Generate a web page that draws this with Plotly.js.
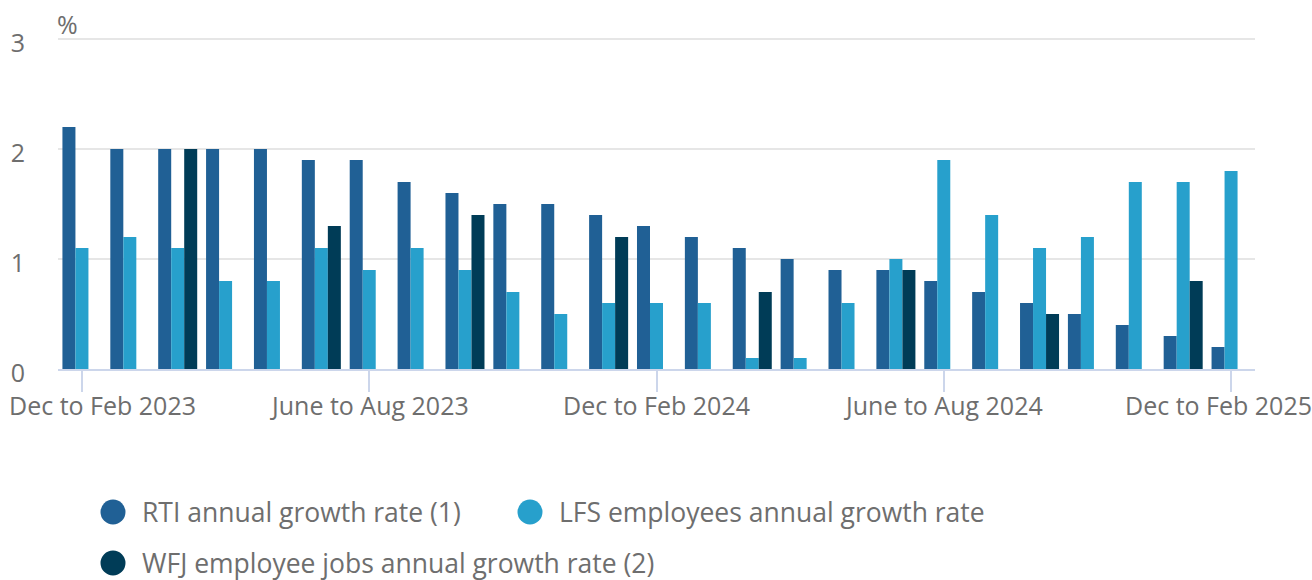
<!DOCTYPE html>
<html><head><meta charset="utf-8">
<script src="https://cdn.plot.ly/plotly-3.0.1.min.js"></script>
<style>html,body{margin:0;padding:0;background:#fff;} #chart{width:1312px;height:580px;}</style>
</head><body><div id="chart"></div>
<script>
const categories = [
  "Dec to Feb 2023","Jan to Mar 2023","Feb to Apr 2023","Mar to May 2023","Apr to June 2023",
  "May to July 2023","June to Aug 2023","July to Sept 2023","Aug to Oct 2023","Sept to Nov 2023",
  "Oct to Dec 2023","Nov to Jan 2024","Dec to Feb 2024","Jan to Mar 2024","Feb to Apr 2024",
  "Mar to May 2024","Apr to June 2024","May to July 2024","June to Aug 2024","July to Sept 2024",
  "Aug to Oct 2024","Sept to Nov 2024","Oct to Dec 2024","Nov to Jan 2025","Dec to Feb 2025"
];
const rtiValues = [2.2,2.0,2.0,2.0,2.0,1.9,1.9,1.7,1.6,1.5,1.5,1.4,1.3,1.2,1.1,1.0,0.9,0.9,0.8,0.7,0.6,0.5,0.4,0.3,0.2];
const lfsValues = [1.1,1.2,1.1,0.8,0.8,1.1,0.9,1.1,0.9,0.7,0.5,0.6,0.6,0.6,0.1,0.1,0.6,1.0,1.9,1.4,1.1,1.2,1.7,1.7,1.8];
const wfjValues = [null,null,2.0,null,null,1.3,null,null,1.4,null,null,1.2,null,null,0.7,null,null,0.9,null,null,0.5,null,null,0.8,null];
const seriesNames = ["RTI annual growth rate (1)","LFS employees annual growth rate","WFJ employee jobs annual growth rate (2)"];
const seriesColors = ["#206095","#27a0cc","#003c57"];
const xTickLabels = ["Dec to Feb 2023","June to Aug 2023","Dec to Feb 2024","June to Aug 2024","Dec to Feb 2025"];
const yTickValues = [0,1,2,3];
const yUnitLabel = "%";

const W = 1312, H = 580;
const M = {l:58, r:57, t:37, b:211};
const pw = W - M.l - M.r, ph = H - M.t - M.b;
const px = x => (x - M.l) / pw;
const py = y => (H - M.b - y) / ph;

const FONT = "'Open Sans', sans-serif";
const TXT = "#6e6e6e";

const seriesValues = [rtiValues, lfsValues, wfjValues];
const traces = seriesValues.map((vals, i) => ({
  type: "bar",
  name: seriesNames[i],
  x: categories,
  y: vals,
  marker: {color: seriesColors[i], line: {width: 0}},
  showlegend: false,
  hoverinfo: "x+y+name"
}));

const annotations = [];
// x tick labels (justified at the ends like the reference)
xTickLabels.forEach((lab, i) => {
  let anchor = "center", shift = 0;
  if (i === 0) { anchor = "left"; shift = -75; }
  if (i === xTickLabels.length - 1) { anchor = "right"; shift = 83; }
  annotations.push({
    x: lab, xref: "x", y: py(405), yref: "paper",
    text: lab, showarrow: false, xanchor: anchor, yanchor: "middle", xshift: shift,
    font: {family: FONT, size: 25, color: TXT}
  });
});
// unit label
annotations.push({
  x: px(55), xref: "paper", y: py(24), yref: "paper", text: yUnitLabel,
  showarrow: false, xanchor: "left", yanchor: "middle",
  font: {family: FONT, size: 25, color: TXT}
});

// custom legend
const legendPos = [[113, 512], [530, 512], [113, 563]];
const shapes = [];
seriesNames.forEach((nm, i) => {
  const [cx, cy] = legendPos[i];
  shapes.push({
    type: "circle", xref: "paper", yref: "paper",
    xsizemode: "pixel", ysizemode: "pixel",
    xanchor: px(cx), yanchor: py(cy),
    x0: -12.5, x1: 12.5, y0: -12.5, y1: 12.5,
    fillcolor: seriesColors[i], line: {width: 0}
  });
  annotations.push({
    x: px(cx + 27), xref: "paper", y: py(cy), yref: "paper", text: nm,
    showarrow: false, xanchor: "left", yanchor: "middle",
    font: {family: FONT, size: 26.5, color: TXT}
  });
});

const layout = {
  width: W, height: H,
  margin: M,
  paper_bgcolor: "#fff", plot_bgcolor: "#fff",
  barmode: "group", bargap: 0.185, bargroupgap: 0,
  showlegend: false,
  font: {family: FONT, color: TXT, size: 25},
  xaxis: {
    type: "category", range: [-0.5, categories.length - 0.5],
    showgrid: false, zeroline: false,
    showline: true, linecolor: "#ccd6eb", linewidth: 1.5,
    ticks: "outside", ticklen: 21, tickwidth: 1.5, tickcolor: "#ccd6eb",
    tickmode: "array", tickvals: xTickLabels, showticklabels: false,
    fixedrange: true
  },
  yaxis: {
    range: [0, 3.018], tickmode: "array", tickvals: yTickValues,
    showgrid: true, gridcolor: "#e6e6e6", gridwidth: 1.5,
    zeroline: false, showline: false, ticks: "",
    ticklabelstandoff: 32, ticklabelshift: 4,
    tickfont: {family: FONT, size: 25, color: TXT},
    fixedrange: true
  },
  annotations: annotations,
  shapes: shapes
};

Plotly.newPlot("chart", traces, layout, {displayModeBar: false, responsive: false});
</script>
</body></html>
